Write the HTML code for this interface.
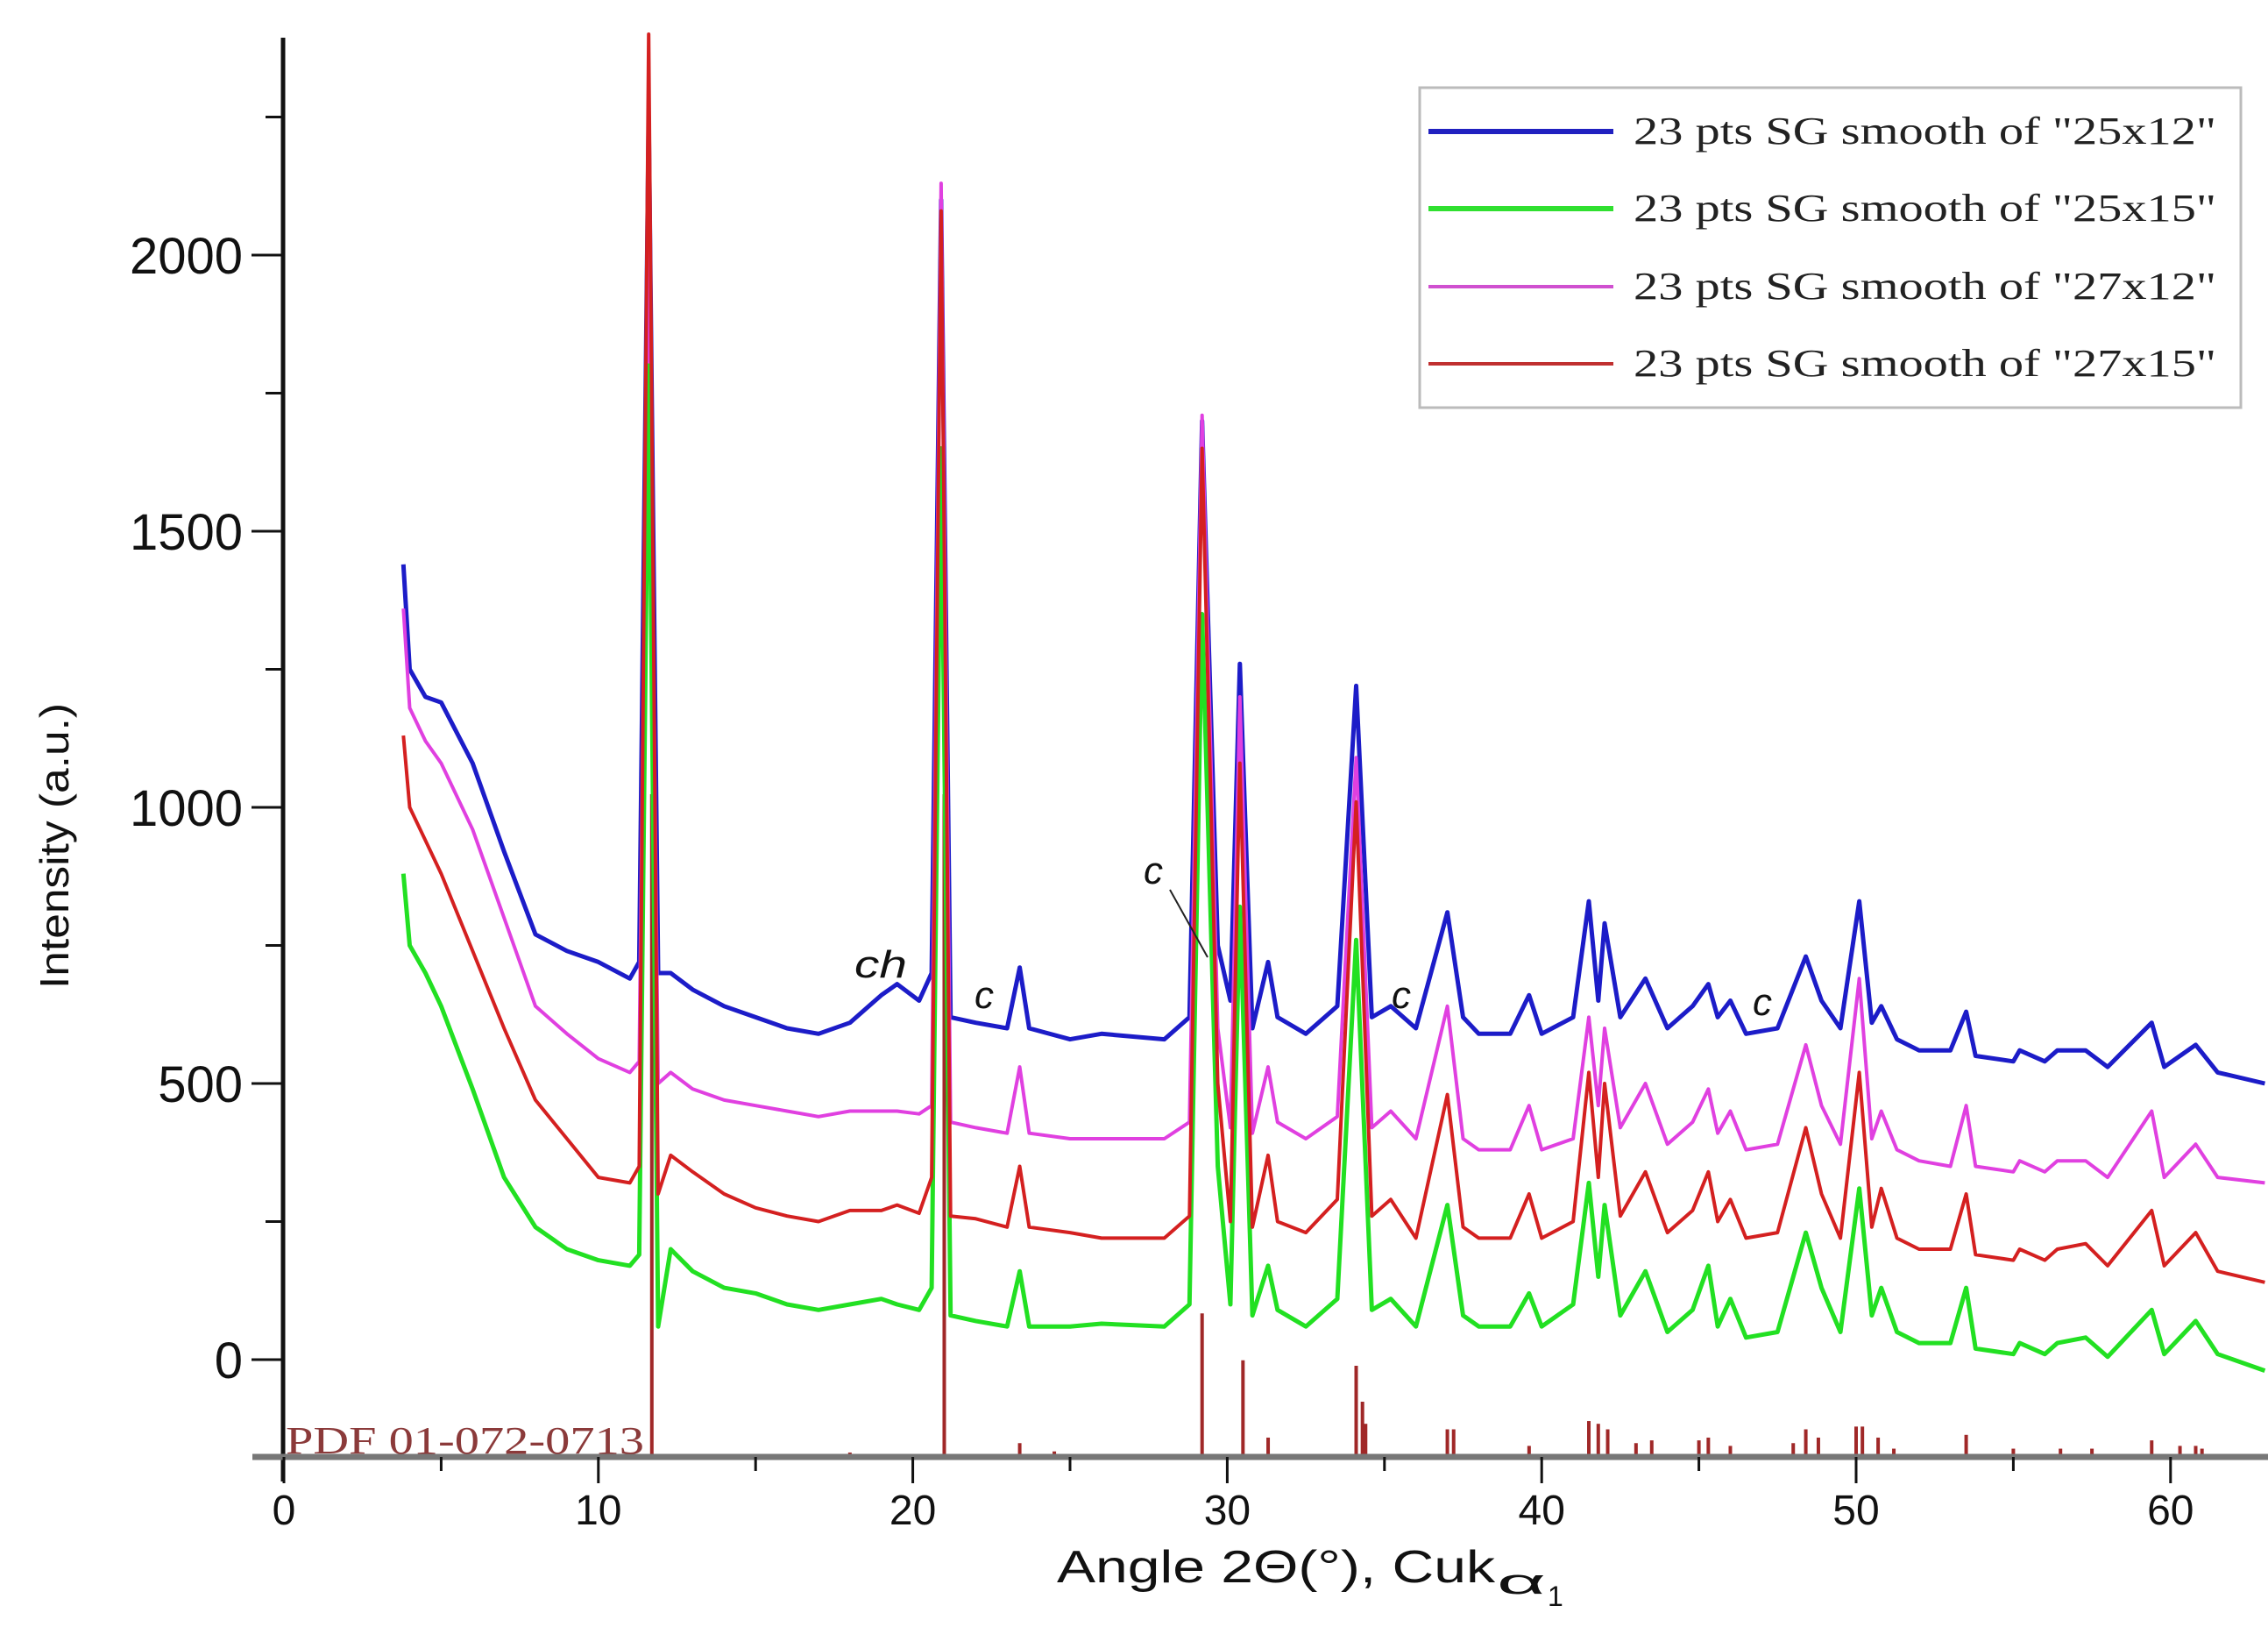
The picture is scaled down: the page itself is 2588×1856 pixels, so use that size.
<!DOCTYPE html>
<html><head><meta charset="utf-8"><style>
html,body{margin:0;padding:0;background:#fff;}
svg{display:block;}
text{font-family:"Liberation Sans",sans-serif;}
</style></head><body>
<svg id="chart" width="2588" height="1856" viewBox="0 0 2588 1856" xmlns="http://www.w3.org/2000/svg">
<g id="sticks"></g>
<g id="series"></g>
<g id="axes"></g>
<text x="326" y="1658" font-size="44" fill="#8b3a3a" textLength="409" lengthAdjust="spacingAndGlyphs" style="font-family:'Liberation Serif',serif">PDF 01-072-0713</text>
<text transform="translate(78,965) rotate(-90)" text-anchor="middle" font-size="46" fill="#111" textLength="326" lengthAdjust="spacingAndGlyphs">Intensity (a.u.)</text>
<text x="1206" y="1805" font-size="52" fill="#111" textLength="500" lengthAdjust="spacingAndGlyphs">Angle 2Θ(°), Cuk</text>
<text x="1708" y="1818" font-size="40" fill="#111" textLength="56" lengthAdjust="spacingAndGlyphs">α</text>
<text x="1766" y="1832" font-size="32" fill="#111">1</text>
<g font-size="44" font-style="italic" fill="#111">
<text x="975" y="1115" textLength="60" lengthAdjust="spacingAndGlyphs">ch</text>
<text x="1112" y="1150">c</text>
<text x="1305" y="1008">c</text>
<line x1="1335" y1="1015" x2="1378" y2="1092" stroke="#222" stroke-width="2"/>
<text x="1588" y="1150">c</text>
<text x="2000" y="1158">c</text>
</g>
<g>
<rect x="1620" y="100" width="937" height="365" fill="#fff" stroke="#bbb" stroke-width="3"/>
<g><line x1="1630" y1="150" x2="1841" y2="150" stroke="#2020c0" stroke-width="6"/><text x="1864" y="164" font-size="44" fill="#222" textLength="665" lengthAdjust="spacingAndGlyphs" style="font-family:'Liberation Serif',serif">23 pts SG smooth of "25x12"</text></g>
<g><line x1="1630" y1="238" x2="1841" y2="238" stroke="#30e030" stroke-width="6"/><text x="1864" y="252" font-size="44" fill="#222" textLength="665" lengthAdjust="spacingAndGlyphs" style="font-family:'Liberation Serif',serif">23 pts SG smooth of "25x15"</text></g>
<g><line x1="1630" y1="327" x2="1841" y2="327" stroke="#d050d0" stroke-width="4"/><text x="1864" y="341" font-size="44" fill="#222" textLength="665" lengthAdjust="spacingAndGlyphs" style="font-family:'Liberation Serif',serif">23 pts SG smooth of "27x12"</text></g>
<g><line x1="1630" y1="415" x2="1841" y2="415" stroke="#c03030" stroke-width="4"/><text x="1864" y="429" font-size="44" fill="#222" textLength="665" lengthAdjust="spacingAndGlyphs" style="font-family:'Liberation Serif',serif">23 pts SG smooth of "27x15"</text></g>
</g>
</svg>
<script>
const angles=[3.8,4.0,4.5,5,6,7,8,9,10,11,11.3,11.6,11.9,12.3,13,14,15,16,17,18,19,19.5,20.2,20.6,20.9,21.2,22,23,23.4,23.7,25,26,28,28.8,29.2,29.7,30.1,30.4,30.8,31.3,31.6,32.5,33.5,34.1,34.6,35.2,36,37,37.5,38,39,39.6,40,41,41.5,41.8,42,42.5,43.3,44,44.8,45.3,45.6,46,46.5,47.5,48.4,48.9,49.5,50.1,50.5,50.8,51.3,52,53,53.5,53.8,55,55.2,56,56.4,57.3,58,59.4,59.8,60.8,61.5,63];
const blue25x12=[1440,1250,1200,1190,1080,920,770,740,720,690,720,2250,700,700,670,640,620,600,590,610,660,680,650,700,2100,620,610,600,710,600,580,590,580,620,1700,750,650,1260,600,720,620,590,640,1220,620,640,600,810,620,590,590,660,590,620,830,650,790,620,690,600,640,680,620,650,590,600,730,650,600,830,610,640,580,560,560,630,550,540,560,540,560,560,530,610,530,570,520,500];
const green25x15=[880,750,700,640,490,330,240,200,180,170,190,1800,60,200,160,130,120,100,90,100,110,100,90,130,1650,80,70,60,160,60,60,65,60,100,1350,350,100,820,80,170,90,60,110,760,90,110,60,280,80,60,60,120,60,100,320,150,280,80,160,50,90,170,60,110,40,50,230,130,50,310,80,130,50,30,30,130,20,10,30,10,30,40,5,90,10,70,10,-20];
const magenta27x12=[1360,1180,1120,1080,960,800,640,590,545,520,540,2100,500,520,490,470,460,450,440,450,450,450,445,460,2130,430,420,410,530,410,400,400,400,430,1710,600,420,1200,410,530,430,400,440,1090,420,450,400,640,400,380,380,460,380,400,620,460,600,420,500,390,430,490,410,450,380,390,570,460,390,690,400,450,380,360,350,460,350,340,360,340,360,360,330,450,330,390,330,320];
const red27x15=[1130,1000,940,880,740,600,470,400,330,320,350,2400,300,370,340,300,275,260,250,270,270,280,265,330,2080,260,255,240,350,240,230,220,220,260,1650,500,250,1080,240,370,250,230,290,1010,260,290,220,480,240,220,220,300,220,250,520,330,500,260,340,230,270,340,250,290,220,230,420,300,220,520,240,310,220,200,200,300,190,180,200,180,200,210,170,270,170,230,160,140];
const stickAngles=[11.7,21.0,29.2,30.5,34.1,34.3,34.4,31.3,23.4,37,37.2,41.5,41.8,42.1,43,43.5,45,45.3,46,48,48.4,48.8,50,50.2,50.7,51.2,53.5,55,56.5,57.5,59.4,60.3,60.8,61,39.6,24.5,18,17.2];
const stickHeights=[1200,1200,260,175,165,100,60,35,25,50,50,65,60,50,25,30,30,35,20,25,50,35,55,55,35,15,40,15,15,15,30,20,20,15,20,10,8,5];
const yTickValues=[0,500,1000,1500,2000];
const xTickValues=[0,10,20,30,40,50,60];

const NS="http://www.w3.org/2000/svg";
const X=v=>324+v*35.88;
const Y=v=>1551-v*0.63;
const BASE=1662;
function mk(tag,attrs,parent){const e=document.createElementNS(NS,tag);for(const k in attrs)e.setAttribute(k,attrs[k]);parent.appendChild(e);return e;}

const sg=document.getElementById('sticks');
stickAngles.forEach((a,i)=>{
  const l=mk('line',{x1:X(a),x2:X(a),y1:BASE,y2:BASE-stickHeights[i]*0.63,stroke:'#a02828','stroke-width':4},sg);
  
  
});

const ser=document.getElementById('series');
const defs=[[blue25x12,'#1c1cc8',5,'series-25x12'],[magenta27x12,'#e040e0',4,'series-27x12'],[green25x15,'#22e022',5,'series-25x15'],[red27x15,'#d42020',4,'series-27x15']];
defs.forEach(d=>{
  const pts=angles.map((a,i)=>X(a).toFixed(1)+','+Y(d[0][i]).toFixed(1)).join(' ');
  const p=mk('polyline',{points:pts,fill:'none',stroke:d[1],'stroke-width':d[2],'stroke-linejoin':'round'},ser);
  
  
});

const ax=document.getElementById('axes');
const ya=mk('line',{x1:323,x2:323,y1:43,y2:1690,stroke:'#111','stroke-width':5},ax);


const xa=mk('line',{x1:288,x2:2588,y1:BASE,y2:BASE,stroke:'#777','stroke-width':7},ax);


yTickValues.forEach(v=>{
  const t=mk('line',{x1:287,x2:323,y1:Y(v),y2:Y(v),stroke:'#111','stroke-width':3},ax);
  
  
  const m=mk('line',{x1:303,x2:323,y1:Y(v+250),y2:Y(v+250),stroke:'#111','stroke-width':3},ax);
  
  
  const tx=mk('text',{x:277,y:Y(v)+21,'text-anchor':'end','font-size':58,fill:'#111'},ax);
  tx.textContent=v;
  
  
});
xTickValues.forEach(v=>{
  const t=mk('line',{x1:X(v),x2:X(v),y1:BASE,y2:BASE+30,stroke:'#111','stroke-width':3},ax);
  
  
  const m=mk('line',{x1:X(v+5),x2:X(v+5),y1:BASE,y2:BASE+16,stroke:'#111','stroke-width':3},ax);
  
  
  const tx=mk('text',{x:X(v),y:1739,'text-anchor':'middle','font-size':48,fill:'#111'},ax);
  tx.textContent=v;
  
  
});
</script>
</body></html>
